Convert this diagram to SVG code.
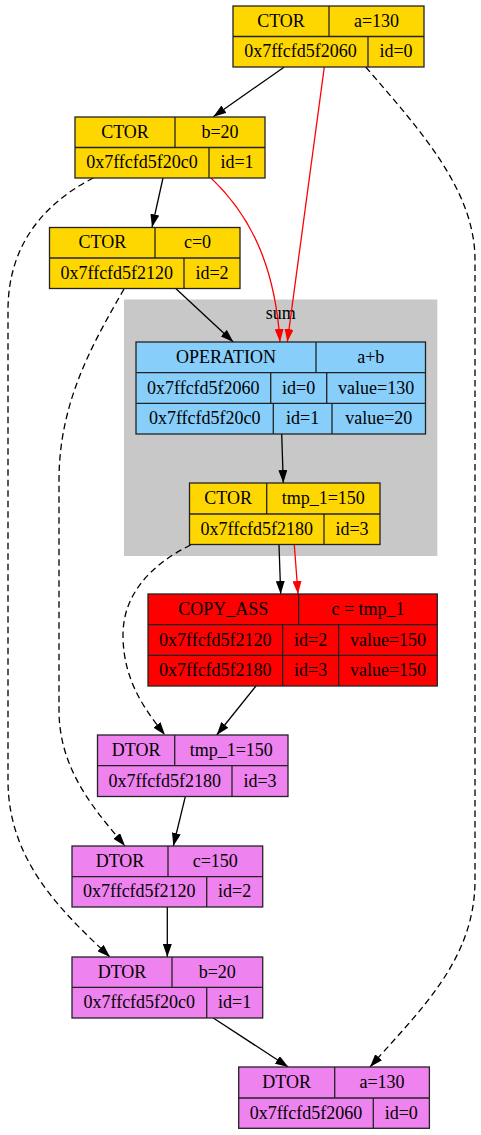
<svg xmlns="http://www.w3.org/2000/svg" width="481" height="1135" viewBox="0 0 481 1135">
<defs>
<style>
text{font-family:"Liberation Serif","Times New Roman",serif;font-size:18px;text-anchor:middle;fill:#000}
.n rect,.n line{stroke:#222;stroke-width:1.3}
.n line{fill:none}
.gold rect{fill:#ffd700}
.blue rect{fill:#87cefa}
.red rect{fill:#ff0000}
.vio rect{fill:#ee82ee}
.e{fill:none;stroke:#000;stroke-width:1.3}
.e.r{stroke:#ff0000}
.e.d{stroke-dasharray:6.5,4}
.k{marker-end:url(#ak)}
.rk{marker-end:url(#ar)}
</style>
<marker id="ak" markerUnits="userSpaceOnUse" markerWidth="13" markerHeight="9" refX="13" refY="4.5" orient="auto"><path d="M0,0 L13,4.5 L0,9 z" fill="#000"/></marker>
<marker id="ar" markerUnits="userSpaceOnUse" markerWidth="13" markerHeight="9" refX="13" refY="4.5" orient="auto"><path d="M0,0 L13,4.5 L0,9 z" fill="#ff0000"/></marker>
</defs>
<rect width="481" height="1135" fill="#fff"/>
<g id="cluster_sum">
<rect x="124" y="299.5" width="313.3" height="256.5" fill="#c8c8c8"/>
<text x="280.7" y="319">sum</text>
</g>
<g id="edges">
<path class="e k" d="M284.3,67 L213.3,116.7"/>
<path class="e r rk" d="M324.3,67 L287.3,342"/>
<path class="e d k" d="M365.7,67 C420,130 475,190 475,260 L475,880 C475,960 420,1010 370,1067"/>
<path class="e k" d="M163,178 L152,227.3"/>
<path class="e r rk" d="M211,178 C250,215 275,265 280,342"/>
<path class="e d k" d="M93.3,178 C50,200 8,240 8,310 L8,780 C8,860 60,910 110,957"/>
<path class="e k" d="M176,288.7 L233.3,342"/>
<path class="e d k" d="M124,289 C95,340 59,400 59,480 L59,710 C59,770 95,810 125,846"/>
<path class="e k" d="M281.7,434 L283.3,483"/>
<path class="e k" d="M279,544.7 L280.7,594"/>
<path class="e r rk" d="M294.3,544.7 L298,594"/>
<path class="e d k" d="M190.7,545 C150,565 123,595 123,635 C123,680 145,710 165,735"/>
<path class="e k" d="M256,686 L216.7,735"/>
<path class="e k" d="M185.3,796.7 L173.3,846"/>
<path class="e k" d="M167.3,907 L167.3,957"/>
<path class="e k" d="M213.3,1018 L288.3,1067"/>
</g>
<g id="ctor_a" class="n gold">
<rect x="233" y="6" width="191" height="61"/>
<line x1="233" y1="36.5" x2="424" y2="36.5"/>
<line x1="329" y1="6" x2="329" y2="36.5"/>
<line x1="368" y1="36.5" x2="368" y2="67"/>
<text x="281" y="26.8">CTOR</text><text x="376.5" y="26.8">a=130</text>
<text x="300.5" y="57.3">0x7ffcfd5f2060</text><text x="396" y="57.3">id=0</text>
</g>
<g id="ctor_b" class="n gold">
<rect x="75" y="117" width="190" height="61"/>
<line x1="75" y1="147.5" x2="265" y2="147.5"/>
<line x1="175" y1="117" x2="175" y2="147.5"/>
<line x1="209" y1="147.5" x2="209" y2="178"/>
<text x="125" y="137.8">CTOR</text><text x="220" y="137.8">b=20</text>
<text x="142" y="168.3">0x7ffcfd5f20c0</text><text x="237" y="168.3">id=1</text>
</g>
<g id="ctor_c" class="n gold">
<rect x="49.5" y="227.5" width="190.5" height="61"/>
<line x1="49.5" y1="258" x2="240" y2="258"/>
<line x1="155" y1="227.5" x2="155" y2="258"/>
<line x1="184" y1="258" x2="184" y2="288.5"/>
<text x="102.3" y="248.3">CTOR</text><text x="197.5" y="248.3">c=0</text>
<text x="116.8" y="278.8">0x7ffcfd5f2120</text><text x="212" y="278.8">id=2</text>
</g>
<g id="operation" class="n blue">
<rect x="136" y="342" width="289.5" height="92"/>
<line x1="136" y1="372.7" x2="425.5" y2="372.7"/>
<line x1="136" y1="403.3" x2="425.5" y2="403.3"/>
<line x1="316" y1="342" x2="316" y2="372.7"/>
<line x1="270.7" y1="372.7" x2="270.7" y2="403.3"/>
<line x1="326.7" y1="372.7" x2="326.7" y2="403.3"/>
<line x1="273.3" y1="403.3" x2="273.3" y2="434"/>
<line x1="332" y1="403.3" x2="332" y2="434"/>
<text x="226" y="362.9">OPERATION</text><text x="370.8" y="362.9">a+b</text>
<text x="203.3" y="393.5">0x7ffcfd5f2060</text><text x="298.7" y="393.5">id=0</text><text x="376.1" y="393.5">value=130</text>
<text x="204.7" y="424.2">0x7ffcfd5f20c0</text><text x="302.7" y="424.2">id=1</text><text x="378.8" y="424.2">value=20</text>
</g>
<g id="ctor_tmp" class="n gold">
<rect x="189.5" y="483" width="190.5" height="61.5"/>
<line x1="189.5" y1="514" x2="380" y2="514"/>
<line x1="266.7" y1="483" x2="266.7" y2="514"/>
<line x1="324" y1="514" x2="324" y2="544.5"/>
<text x="228.1" y="504">CTOR</text><text x="323.3" y="504">tmp_1=150</text>
<text x="256.8" y="534.8">0x7ffcfd5f2180</text><text x="352" y="534.8">id=3</text>
</g>
<g id="copy_ass" class="n red">
<rect x="148" y="594" width="289.3" height="92"/>
<line x1="148" y1="624.7" x2="437.3" y2="624.7"/>
<line x1="148" y1="655.3" x2="437.3" y2="655.3"/>
<line x1="298.7" y1="594" x2="298.7" y2="624.7"/>
<line x1="282.7" y1="624.7" x2="282.7" y2="686"/>
<line x1="338.7" y1="624.7" x2="338.7" y2="686"/>
<text x="223.3" y="614.9">COPY_ASS</text><text x="368" y="614.9">c = tmp_1</text>
<text x="215.3" y="645.5">0x7ffcfd5f2120</text><text x="310.7" y="645.5">id=2</text><text x="388" y="645.5">value=150</text>
<text x="215.3" y="676.2">0x7ffcfd5f2180</text><text x="310.7" y="676.2">id=3</text><text x="388" y="676.2">value=150</text>
</g>
<g id="dtor_tmp" class="n vio">
<rect x="97.5" y="735" width="190.5" height="61.5"/>
<line x1="97.5" y1="765.7" x2="288" y2="765.7"/>
<line x1="174.7" y1="735" x2="174.7" y2="765.7"/>
<line x1="232" y1="765.7" x2="232" y2="796.5"/>
<text x="136.1" y="755.9">DTOR</text><text x="231.3" y="755.9">tmp_1=150</text>
<text x="164.8" y="786.6">0x7ffcfd5f2180</text><text x="260" y="786.6">id=3</text>
</g>
<g id="dtor_c" class="n vio">
<rect x="72" y="846" width="190.7" height="61"/>
<line x1="72" y1="876.7" x2="262.7" y2="876.7"/>
<line x1="168" y1="846" x2="168" y2="876.7"/>
<line x1="206.7" y1="876.7" x2="206.7" y2="907"/>
<text x="120" y="866.9">DTOR</text><text x="215.3" y="866.9">c=150</text>
<text x="139.3" y="897.4">0x7ffcfd5f2120</text><text x="234.7" y="897.4">id=2</text>
</g>
<g id="dtor_b" class="n vio">
<rect x="72" y="957" width="190.7" height="61"/>
<line x1="72" y1="987.3" x2="262.7" y2="987.3"/>
<line x1="172" y1="957" x2="172" y2="987.3"/>
<line x1="206.7" y1="987.3" x2="206.7" y2="1018"/>
<text x="122" y="977.7">DTOR</text><text x="217.3" y="977.7">b=20</text>
<text x="139.3" y="1008.2">0x7ffcfd5f20c0</text><text x="234.7" y="1008.2">id=1</text>
</g>
<g id="dtor_a" class="n vio">
<rect x="238.7" y="1067" width="190.7" height="61.3"/>
<line x1="238.7" y1="1098" x2="429.4" y2="1098"/>
<line x1="334.7" y1="1067" x2="334.7" y2="1098"/>
<line x1="373.3" y1="1098" x2="373.3" y2="1128.3"/>
<text x="286.7" y="1088">DTOR</text><text x="382" y="1088">a=130</text>
<text x="306" y="1118.7">0x7ffcfd5f2060</text><text x="401.3" y="1118.7">id=0</text>
</g>
</svg>
